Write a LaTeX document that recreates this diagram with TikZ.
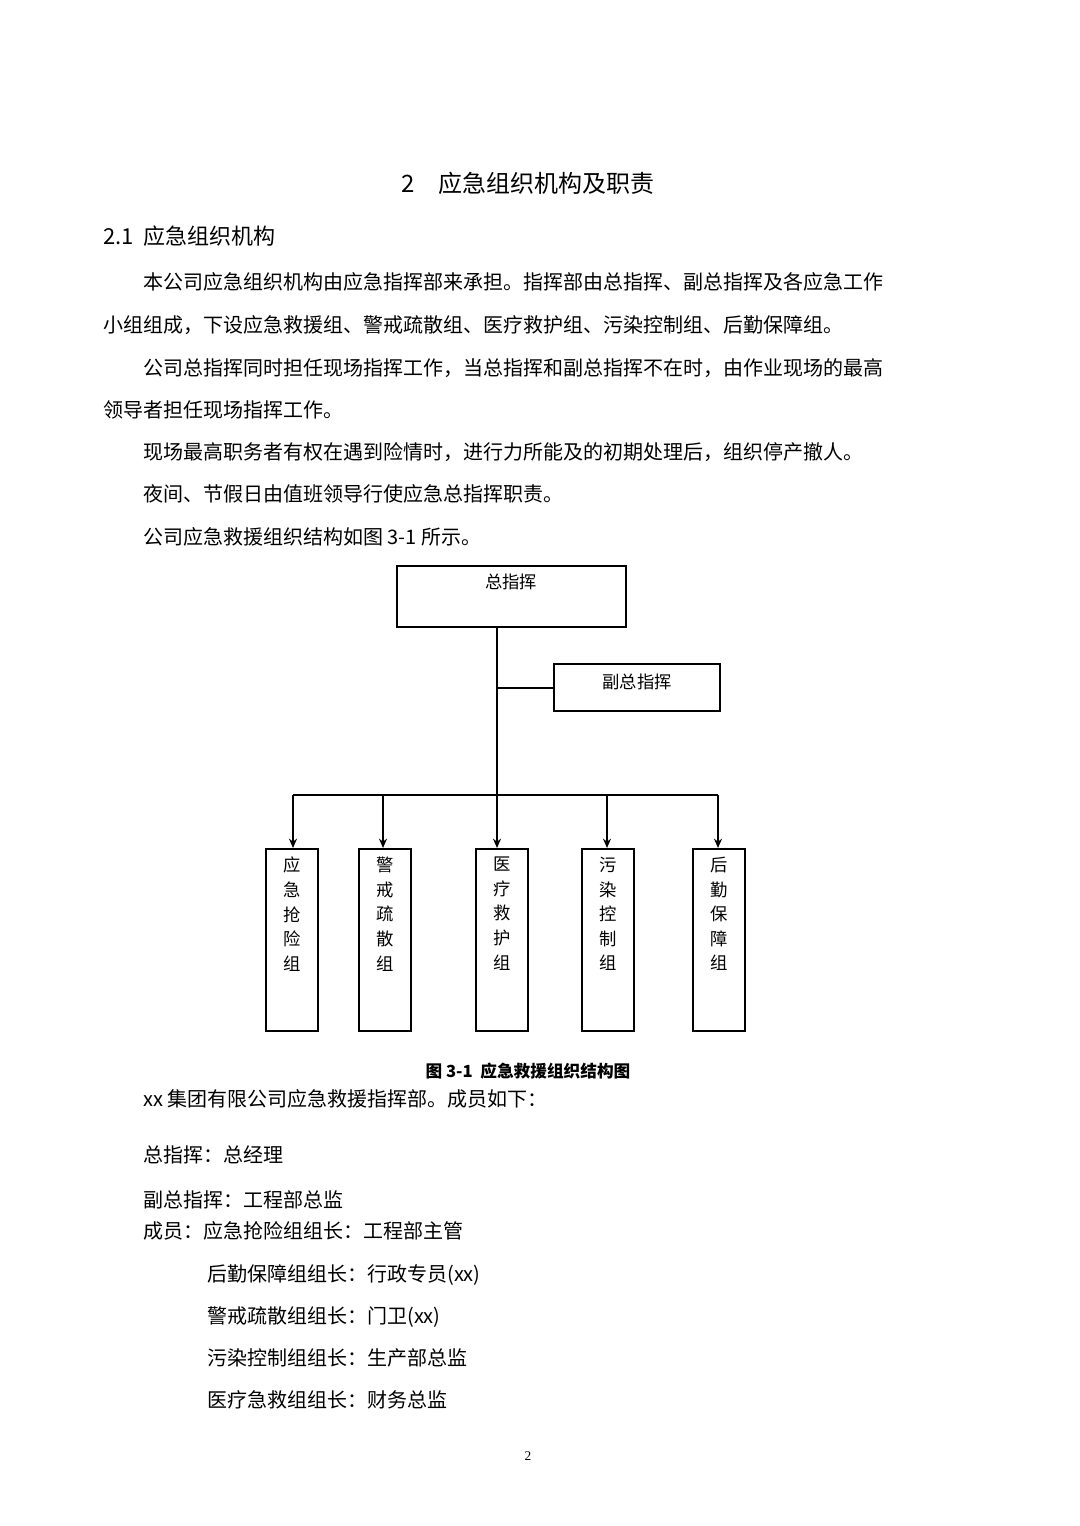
\documentclass[tikz,border=0pt]{standalone}
\usepackage{fontspec}
\setmainfont{Liberation Serif}
\newfontfamily\cjk{Noto Sans CJK SC}
\usetikzlibrary{arrows.meta,positioning}
\begin{document}
\begin{tikzpicture}
[ x=0.75pt, y=-0.75pt, font=\cjk
, line/.style={line width=1.6pt}
, arrow/.style={line width=1.6pt, -{Stealth[length=7pt,width=6pt]}}
, box/.style={draw, line width=1.2pt}
, body/.style={anchor=base west, inner sep=0pt, font=\cjk\fontsize{15}{18}\selectfont}
, group/.style={draw, line width=1.2pt, minimum width=39pt, minimum height=136.5pt, anchor=north, inner sep=0pt}
, grouptext/.style={anchor=north, inner sep=0pt, align=center, font=\cjk\fontsize{13}{18.4}\selectfont}
]
\useasboundingbox[fill=white] (0,0) rectangle (1080,1526);
% headings
\node (title) [anchor=base, font=\cjk\fontsize{18}{20}\selectfont] at (528,193) {2\quad 应急组织机构及职责};
\node (sec) [body, font=\cjk\fontsize{16.5}{20}\selectfont] at (103,245) {2.1\ \ 应急组织机构};
% paragraphs
\node (l1) [body] at (143,290) {本公司应急组织机构由应急指挥部来承担。指挥部由总指挥、副总指挥及各应急工作};
\node (l2) [body] at (103,332) {小组组成，下设应急救援组、警戒疏散组、医疗救护组、污染控制组、后勤保障组。};
\node (l3) [body] at (143,375) {公司总指挥同时担任现场指挥工作，当总指挥和副总指挥不在时，由作业现场的最高};
\node (l4) [body] at (103,417) {领导者担任现场指挥工作。};
\node (l5) [body] at (143,459) {现场最高职务者有权在遇到险情时，进行力所能及的初期处理后，组织停产撤人。};
\node (l6) [body] at (143,501) {夜间、节假日由值班领导行使应急总指挥职责。};
\node (l7) [body] at (143,544) {公司应急救援组织结构如图 3-1 所示。};
% chart
\draw [box] (397,566) rectangle (626,627);
\node (chief) [anchor=north, inner sep=0pt, font=\cjk\fontsize{13}{15}\selectfont] at (511,574) {总指挥};
\draw [box] (554,664) rectangle (720,711);
\node (vice) [anchor=north, inner sep=0pt, font=\cjk\fontsize{13}{15}\selectfont] at (637,674) {副总指挥};
\coordinate (top) at (497,627);
\coordinate (branch) at (497,688);
\coordinate (viceL) at (554,688);
\coordinate (bus) at (497,795);
\draw [line] (top) -- (bus);
\draw [line] (branch) -- (viceL);
\draw [line] (293,795) -- (718,795);
\foreach \x/\n/\t in {292/g1/应\\急\\抢\\险\\组, 385/g2/警\\戒\\疏\\散\\组, 502/g3/医\\疗\\救\\护\\组, 608/g4/污\\染\\控\\制\\组, 719/g5/后\\勤\\保\\障\\组}{
  \node (\n) [group] at (\x,848) {};
  \node [grouptext] at (\x,857) {\t};
}
\foreach \x/\n in {293/g1, 383/g2, 497/g3, 607/g4, 718/g5}
  \draw [arrow] (\x,795) -- (\x,848);
\node (cap) [anchor=base, font=\cjk\bfseries\fontsize{12.5}{15}\selectfont] at (528,1077) {图 3-1\ \ 应急救援组织结构图};
% members
\node (m0) [body] at (143,1106) {xx 集团有限公司应急救援指挥部。成员如下：};
\node (m1) [body] at (143,1162) {总指挥：总经理};
\node (m2) [body] at (143,1207) {副总指挥：工程部总监};
\node (m3) [body] at (143,1238) {成员：应急抢险组组长：工程部主管};
\node (m4) [body] at (207,1281) {后勤保障组组长：行政专员(xx)};
\node (m5) [body] at (207,1323) {警戒疏散组组长：门卫(xx)};
\node (m6) [body] at (207,1365) {污染控制组组长：生产部总监};
\node (m7) [body] at (207,1407) {医疗急救组组长：财务总监};
\node (page) [anchor=base, font=\fontsize{10}{12}\selectfont] at (528,1460) {2};
\end{tikzpicture}
\end{document}
